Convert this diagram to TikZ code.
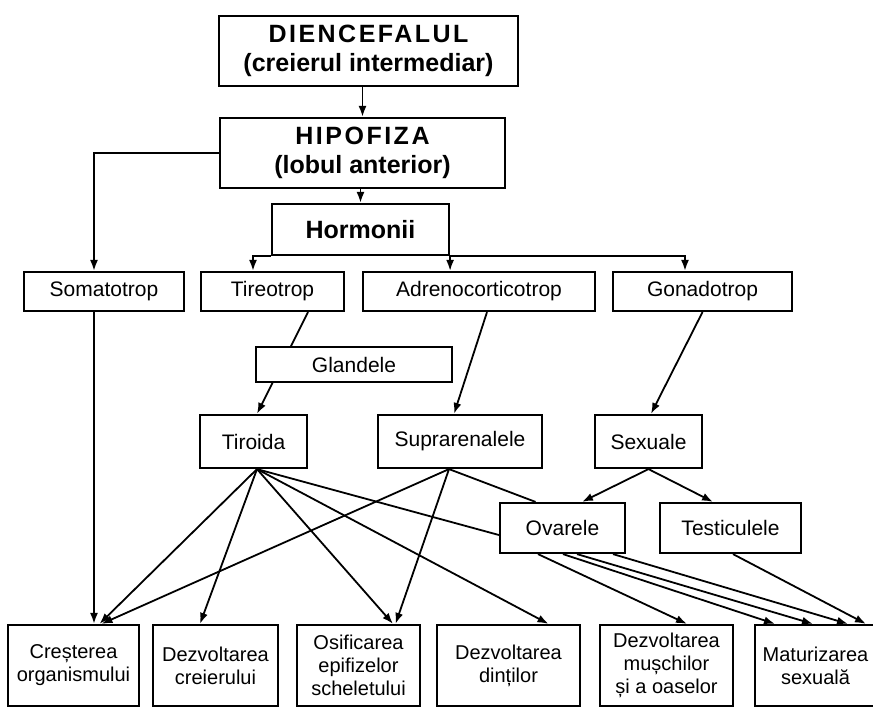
\documentclass[tikz,border=0pt]{standalone}
\usepackage{fontspec}
\setmainfont{Liberation Sans}
\newfontfamily\spacedfont[LetterSpace=10]{Liberation Sans}
\usetikzlibrary{arrows.meta,backgrounds}
\begin{document}
\begin{tikzpicture}[x=1pt,y=-1pt,
  box/.style={draw, line width=2.2pt, fill=white, inner sep=0pt, align=center},
  big/.style={font=\fontsize{25}{29}\selectfont\bfseries},
  lbl/.style={font=\fontsize{21}{24}\selectfont},
  small/.style={font=\fontsize{20}{23}\selectfont},
  conn/.style={line width=1.8pt, -{Latex[length=11pt,width=8pt]}},
  plainline/.style={line width=1.8pt}]
\useasboundingbox (0,0) rectangle (873,708);

% top
\node[box, big, minimum width=299pt, minimum height=70pt] (dien) at (368.5,51)
  {{\spacedfont DIENCEFALUL}\\(creierul intermediar)};
\node[box, big, minimum width=285pt, minimum height=70pt] (hipo) at (362.5,153)
  {{\spacedfont HIPOFIZA}\\(lobul anterior)};
\node[box, big, minimum width=177pt, minimum height=51pt] (horm) at (360.5,229.5) {Hormonii};

% row 2
\node[box, lbl, minimum width=160pt, minimum height=39pt] (soma) at (104,291.5) {Somatotrop};
\node[box, lbl, minimum width=143pt, minimum height=39pt] (tireo) at (272.5,291.5) {Tireotrop};
\node[box, lbl, minimum width=232pt, minimum height=39pt] (adreno) at (479,291.5) {Adrenocorticotrop};
\node[box, lbl, minimum width=179pt, minimum height=39pt] (gonado) at (702.5,291.5) {Gonadotrop};

\node[box, lbl, minimum width=196pt, minimum height=35pt] (gland) at (354,364.5) {Glandele};

% row 4
\node[box, lbl, minimum width=107pt, minimum height=53pt] (tiroida) at (253.5,441.5) {Tiroida};
\node[box, lbl, minimum width=164pt, minimum height=53pt] (supra) at (460,441.5) {Suprarenalele};
\node[box, lbl, minimum width=107pt, minimum height=53pt] (sexuale) at (648.5,441.5) {Sexuale};

% row 5
\node[box, lbl, minimum width=125pt, minimum height=50pt] (ovarele) at (562.5,528) {Ovarele};
\node[box, lbl, minimum width=141pt, minimum height=50pt] (testic) at (730.5,528) {Testiculele};

% bottom row
\node[box, small, minimum width=131pt, minimum height=81pt] (crest) at (73.5,665.5) {Creșterea\\organismului};
\node[box, small, minimum width=125pt, minimum height=81pt] (dcrei) at (215.5,665.5) {Dezvoltarea\\creierului};
\node[box, small, minimum width=123pt, minimum height=81pt] (osif) at (358.5,665.5) {Osificarea\\epifizelor\\scheletului};
\node[box, small, minimum width=143pt, minimum height=81pt] (dinti) at (508.5,665.5) {Dezvoltarea\\dinților};
\node[box, small, minimum width=133pt, minimum height=81pt] (dmusch) at (666.5,665.5) {Dezvoltarea\\mușchilor\\și a oaselor};
\node[box, small, minimum width=121pt, minimum height=81pt] (matur) at (815.5,665.5) {Maturizarea\\sexuală};

\begin{scope}[on background layer]
\draw[conn] (dien.south -| hipo.north) -- (hipo.north);
\draw[conn] (hipo.south -| horm.north) -- (horm.north);
\draw[conn] (hipo.west) -| ([xshift=-10pt]soma.north);
\draw[conn] (horm.south west) -| ([xshift=-19.5pt]tireo.north);
\draw[conn] (horm.south east) -- (horm.south east |- adreno.north);
\draw[conn] (horm.south east) -| ([xshift=-17.5pt]gonado.north);

\draw[conn] ([xshift=35.5pt]tireo.south) -- ([xshift=3.5pt]tiroida.north);
\draw[conn] ([xshift=8pt]adreno.south) -- ([xshift=-6pt]supra.north);
\draw[conn] (gonado.south) -- ([xshift=2.5pt]sexuale.north);
\draw[conn] (sexuale.south) -- ([xshift=19.5pt]ovarele.north);
\draw[conn] (sexuale.south) -- ([xshift=-17.5pt]testic.north);

\draw[conn] ([xshift=-10pt]soma.south) -- ([xshift=20.5pt]crest.north);

\draw[conn] ([xshift=3.5pt]tiroida.south) -- ([xshift=26pt]crest.north);
\draw[conn] ([xshift=3.5pt]tiroida.south) -- ([xshift=-15.5pt]dcrei.north);
\draw[conn] ([xshift=3.5pt]tiroida.south) -- ([xshift=34.5pt]osif.north);
\draw[conn] ([xshift=3.5pt]tiroida.south) -- ([xshift=40pt]dinti.north);
\draw[plainline] ([xshift=3.5pt]tiroida.south) -- ([yshift=-7pt]ovarele.west);

\draw[conn] ([xshift=-11pt]supra.south) -- ([xshift=28pt]crest.north);
\draw[conn] ([xshift=-11pt]supra.south) -- ([xshift=37pt]osif.north);
\draw[plainline] ([xshift=-11pt]supra.south) -- ([xshift=-27pt]ovarele.north);

\draw[conn] ([xshift=-24.5pt]ovarele.south) -- ([xshift=20.5pt]dmusch.north);
\draw[conn] ([xshift=0.5pt]ovarele.south) -- ([xshift=-40.5pt]matur.north);
\draw[conn] ([xshift=14.5pt]ovarele.south) -- ([xshift=-2.5pt]matur.north);
\draw[conn] ([xshift=50.5pt]ovarele.south) -- ([xshift=32.5pt]matur.north);
\draw[conn] ([xshift=2.5pt]testic.south) -- ([xshift=50.5pt]matur.north);
\end{scope}
\end{tikzpicture}
\end{document}
